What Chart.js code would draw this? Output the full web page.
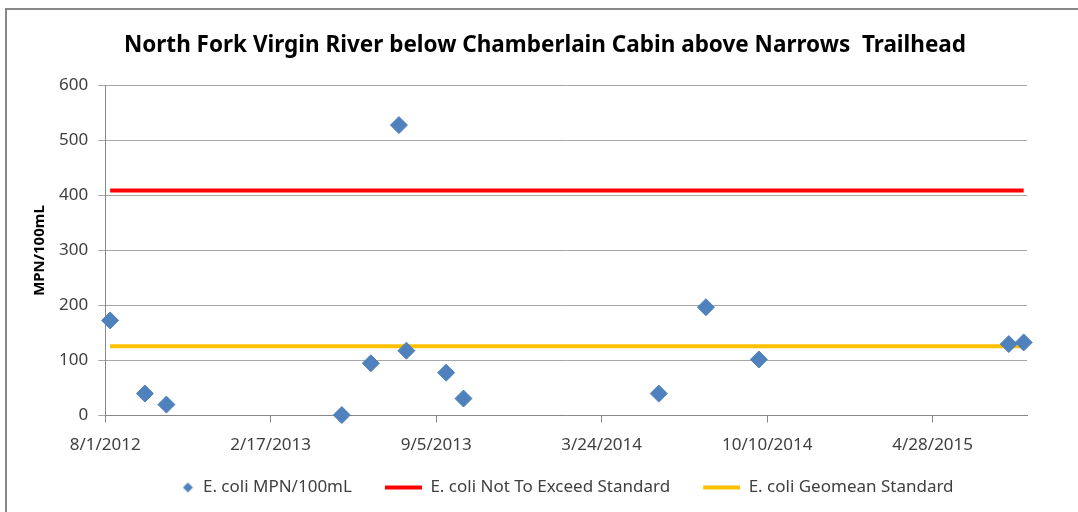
<!DOCTYPE html>
<html>
<head>
<meta charset="utf-8">
<script src="https://cdn.jsdelivr.net/npm/chart.js@4/dist/chart.umd.min.js"></script>
<style>
  body { margin: 0; background: #fff; }
  #frame { position: absolute; left: 5px; top: 8px; width: 1085px; height: 510px; border: 2px solid #888; background: #fff; }
  #wrap { position: absolute; left: 0; top: 0; width: 1071px; height: 502px; }
</style>
</head>
<body>
<div id="frame"><div id="wrap"><canvas id="myChart"></canvas></div></div>
<script>
// sample dates and E. coli counts (MPN/100mL)
const sampleDates = ['8/7/2012', '9/18/2012', '10/14/2012', '5/14/2013', '6/18/2013', '7/22/2013', '7/31/2013',
    '9/17/2013', '10/8/2013', '6/1/2014', '7/28/2014', '9/30/2014', '7/29/2015', '8/16/2015'];
const ecoli = [173, 40, 20, 1, 95, 528, 118, 78, 31, 40, 197, 102, 130, 133];
const notToExceed = 409;
const geomean = 126;
const xTickLabels = ['8/1/2012', '2/17/2013', '9/5/2013', '3/24/2014', '10/10/2014', '4/28/2015'];
const xMin = '8/1/2012';
const xMax = '8/20/2015';
const yTicks = [0, 100, 200, 300, 400, 500, 600];

function dayNum(s) {
    const [m, d, y] = s.split('/').map(Number);
    return Date.UTC(y, m - 1, d) / 86400000;
}

const first = sampleDates[0];
const last = sampleDates[sampleDates.length - 1];
const tickDays = xTickLabels.map(dayNum);

// legend icons: a wide box so the gaps between items look like Excel's
const ICON_W = 58;
function legendIcon(draw) {
    const cv = document.createElement('canvas');
    cv.width = ICON_W;
    cv.height = 12;
    draw(cv.getContext('2d'));
    return cv;
}
const diamondIcon = legendIcon(c => {
    const cx = ICON_W - 6.5;
    c.fillStyle = '#4f81bd';
    c.beginPath();
    c.moveTo(cx, 1);
    c.lineTo(cx + 5, 6);
    c.lineTo(cx, 11);
    c.lineTo(cx - 5, 6);
    c.closePath();
    c.fill();
});
const lineIcon = color => legendIcon(c => {
    c.strokeStyle = color;
    c.lineWidth = 4;
    c.beginPath();
    c.moveTo(ICON_W - 37, 6);
    c.lineTo(ICON_W, 6);
    c.stroke();
});

const ctx = document.getElementById('myChart').getContext('2d');
Chart.defaults.font.family = "'Noto Sans', sans-serif";
Chart.defaults.color = '#404040';

new Chart(ctx, {
    type: 'scatter',
    data: {
        datasets: [{
            label: 'E. coli MPN/100mL',
            data: sampleDates.map((d, i) => ({ x: dayNum(d), y: ecoli[i] })),
            backgroundColor: '#4f81bd',
            borderColor: '#4f81bd',
            pointStyle: 'rectRot',
            pointRadius: 8.5,
            pointHoverRadius: 8.5,
            clip: false,
            order: 0
        }, {
            label: 'E. coli Not To Exceed Standard',
            type: 'line',
            data: [{ x: dayNum(first), y: notToExceed }, { x: dayNum(last), y: notToExceed }],
            borderColor: '#ff0000',
            backgroundColor: '#ff0000',
            borderWidth: 4,
            pointRadius: 0,
            order: 1
        }, {
            label: 'E. coli Geomean Standard',
            type: 'line',
            data: [{ x: dayNum(first), y: geomean }, { x: dayNum(last), y: geomean }],
            borderColor: '#ffc000',
            backgroundColor: '#ffc000',
            borderWidth: 4,
            pointRadius: 0,
            order: 2
        }]
    },
    options: {
        responsive: true,
        maintainAspectRatio: false,
        animation: false,
        layout: { padding: { left: 18, right: 13, top: 10, bottom: 6 } },
        plugins: {
            tooltip: { enabled: false },
            title: {
                display: true,
                text: 'North Fork Virgin River below Chamberlain Cabin above Narrows  Trailhead',
                color: '#000',
                font: { size: 22.5, weight: 'bold' },
                padding: { top: 12.5, bottom: 26 }
            },
            legend: {
                position: 'bottom',
                labels: {
                    usePointStyle: true,
                    pointStyleWidth: ICON_W,
                    boxHeight: 10,
                    padding: 12,
                    color: '#404040',
                    font: { size: 17 },
                    generateLabels: chart => {
                        const items = Chart.defaults.plugins.legend.labels.generateLabels(chart);
                        items[0].pointStyle = diamondIcon;
                        items[1].pointStyle = lineIcon('#ff0000');
                        items[2].pointStyle = lineIcon('#ffc000');
                        return items;
                    }
                }
            }
        },
        scales: {
            x: {
                type: 'linear',
                min: dayNum(xMin),
                max: dayNum(xMax),
                afterBuildTicks: axis => { axis.ticks = tickDays.map(v => ({ value: v })); },
                ticks: {
                    callback: v => xTickLabels[tickDays.indexOf(v)],
                    font: { size: 17 },
                    color: '#404040',
                    maxRotation: 0,
                    padding: 12
                },
                grid: { drawOnChartArea: false, drawTicks: true, tickLength: 7, color: '#888' },
                border: { color: '#888' }
            },
            y: {
                min: 0,
                max: 600,
                afterBuildTicks: axis => { axis.ticks = yTicks.map(v => ({ value: v })); },
                ticks: { font: { size: 17 }, color: '#404040', padding: 10 },
                title: {
                    display: true,
                    text: 'MPN/100mL',
                    color: '#000',
                    font: { size: 15, weight: 'bold' },
                    padding: { top: 6, bottom: 0 }
                },
                grid: { color: '#a6a6a6', tickLength: 7 },
                border: { color: '#888' }
            },
            // empty right-hand gutter so the title centres like the original
            y2: {
                position: 'right',
                min: 0,
                max: 600,
                grid: { display: false },
                ticks: { display: false },
                border: { display: false },
                afterFit: axis => { axis.width = 38; }
            }
        }
    }
});
</script>
</body>
</html>
